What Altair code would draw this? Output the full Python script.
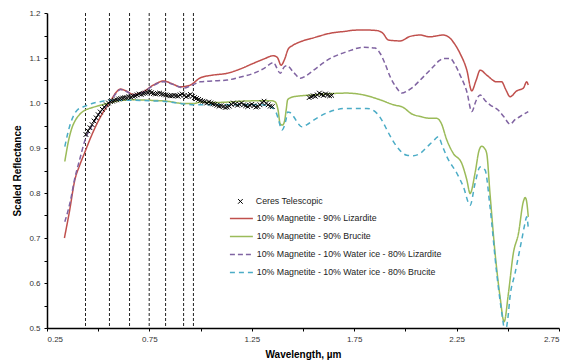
import altair as alt
import pandas as pd

# ---------------- data ----------------
series_names = [
    "10% Magnetite - 90% Lizardite",
    "10% Magnetite - 90% Brucite",
    "10% Magnetite - 10% Water ice - 80% Lizardite",
    "10% Magnetite - 10% Water ice - 80% Brucite",
]
series_colors = ["#C0504D", "#9BBB59", "#8064A2", "#4BACC6"]
series_dashes = [[1, 0], [1, 0], [5, 3], [5, 4]]
series_widths = [1.5, 1.5, 2.2, 1.5]

liz_x = [0.335, 0.36, 0.386, 0.41, 0.436, 0.465, 0.495, 0.525, 0.555, 0.585, 0.609, 0.635,
         0.672, 0.72, 0.77, 0.82, 0.86, 0.901, 0.95, 0.999, 1.06, 1.129, 1.19, 1.257, 1.31,
         1.355, 1.375, 1.393, 1.41, 1.428, 1.45, 1.487, 1.56, 1.633, 1.70, 1.763, 1.82, 1.86,
         1.89, 1.917, 1.974, 2.023, 2.072, 2.12, 2.15, 2.186, 2.218, 2.245, 2.267, 2.3, 2.324,
         2.345, 2.365, 2.397, 2.446, 2.47, 2.49, 2.511, 2.544, 2.576, 2.592, 2.6]
liz_y = [0.70, 0.76, 0.829, 0.862, 0.892, 0.925, 0.955, 0.98, 1.0, 1.022, 1.031, 1.027,
         1.019, 1.025, 1.04, 1.049, 1.043, 1.036, 1.04, 1.056, 1.062, 1.066, 1.075, 1.088, 1.098,
         1.105, 1.101, 1.084, 1.097, 1.12, 1.128, 1.136, 1.146, 1.155, 1.159, 1.162, 1.162, 1.161,
         1.155, 1.14, 1.138, 1.148, 1.151, 1.147, 1.149, 1.151, 1.144, 1.128, 1.110, 1.073, 1.027,
         1.05, 1.073, 1.062, 1.047, 1.047, 1.03, 1.014, 1.027, 1.033, 1.047, 1.04]

bru_x = [0.337, 0.356, 0.372, 0.389, 0.41, 0.436, 0.465, 0.495, 0.555, 0.6, 0.673, 0.75,
         0.836, 0.917, 0.966, 1.0, 1.06, 1.129, 1.2, 1.291, 1.35, 1.365, 1.378, 1.389, 1.40,
         1.41, 1.418, 1.425, 1.44, 1.454, 1.552, 1.714, 1.795, 1.877, 1.942, 1.99, 2.03, 2.072,
         2.12, 2.153, 2.175, 2.202, 2.234, 2.275, 2.3, 2.316, 2.34, 2.36, 2.373, 2.385, 2.397,
         2.413, 2.438, 2.462, 2.482, 2.503, 2.527, 2.552, 2.576, 2.585, 2.592, 2.6]
bru_y = [0.870, 0.918, 0.945, 0.962, 0.975, 0.984, 0.989, 0.993, 1.0, 1.005, 1.007, 1.006,
         1.004, 0.999, 0.999, 1.002, 1.001, 1.002, 1.004, 1.005, 1.005, 1.002, 0.985, 0.953, 0.951,
         0.96, 0.985, 1.007, 1.012, 1.014, 1.018, 1.022, 1.018, 1.007, 0.996, 0.99, 0.976, 0.970,
         0.966, 0.966, 0.955, 0.918, 0.888, 0.866, 0.829, 0.799, 0.844, 0.895, 0.904, 0.90, 0.888,
         0.799, 0.666, 0.570, 0.514, 0.577, 0.666, 0.71, 0.781, 0.79, 0.781, 0.747]

wliz_x = [0.337, 0.365, 0.384, 0.41, 0.436, 0.465, 0.495, 0.525, 0.555, 0.585, 0.609, 0.635,
          0.673, 0.72, 0.77, 0.82, 0.86, 0.901, 0.917, 0.95, 0.999, 1.06, 1.129, 1.19, 1.259,
          1.31, 1.356, 1.372, 1.389, 1.408, 1.422, 1.454, 1.487, 1.52, 1.552, 1.633, 1.714,
          1.795, 1.852, 1.877, 1.90, 1.926, 1.955, 1.983, 2.01, 2.039, 2.072, 2.105, 2.137,
          2.165, 2.186, 2.218, 2.245, 2.267, 2.3, 2.324, 2.345, 2.365, 2.39, 2.413, 2.454,
          2.48, 2.511, 2.535, 2.56, 2.585, 2.6]
wliz_y = [0.736, 0.784, 0.829, 0.875, 0.918, 0.946, 0.97, 0.988, 1.0, 1.02, 1.03, 1.026,
          1.018, 1.024, 1.039, 1.047, 1.042, 1.035, 1.033, 1.038, 1.047, 1.049, 1.051, 1.057, 1.066,
          1.077, 1.090, 1.078, 1.066, 1.080, 1.083, 1.068, 1.055, 1.062, 1.073, 1.099, 1.114,
          1.124, 1.122, 1.110, 1.088, 1.058, 1.035, 1.022, 1.027, 1.036, 1.051, 1.066, 1.081,
          1.094, 1.099, 1.099, 1.083, 1.062, 1.025, 0.981, 1.005, 1.018, 1.005, 0.996, 0.984,
          0.97, 0.953, 0.963, 0.97, 0.977, 0.981]

wbru_x = [0.337, 0.35, 0.365, 0.38, 0.397, 0.436, 0.47, 0.511, 0.555, 0.65, 0.75, 0.836,
          0.917, 0.966, 1.05, 1.129, 1.2, 1.291, 1.356, 1.372, 1.381, 1.397, 1.408, 1.418,
          1.425, 1.436, 1.454, 1.475, 1.495, 1.52, 1.552, 1.633, 1.714, 1.812, 1.861, 1.89,
          1.91, 1.958, 2.007, 2.04, 2.072, 2.105, 2.137, 2.161, 2.18, 2.202, 2.251, 2.283,
          2.316, 2.34, 2.365, 2.389, 2.413, 2.446, 2.475, 2.486, 2.50, 2.511, 2.535, 2.568,
          2.585, 2.592, 2.6]
wbru_y = [0.903, 0.93, 0.955, 0.972, 0.984, 0.993, 0.999, 1.003, 1.006, 1.006, 1.005, 1.003,
          0.998, 0.996, 0.996, 0.996, 0.996, 0.996, 0.988, 0.975, 0.962, 0.94, 0.948, 0.965,
          0.98, 0.979, 0.97, 0.955, 0.947, 0.952, 0.962, 0.981, 0.988, 0.988, 0.977, 0.958,
          0.94, 0.903, 0.884, 0.883, 0.888, 0.902, 0.916, 0.925, 0.905, 0.881, 0.844, 0.814,
          0.773, 0.821, 0.858, 0.851, 0.77, 0.621, 0.52, 0.49, 0.52, 0.570, 0.621, 0.696,
          0.735, 0.747, 0.722]

ceres_label = "Ceres Telescopic"
ceres_x = [0.44, 0.45, 0.46, 0.47, 0.48, 0.49, 0.50, 0.51, 0.52, 0.53, 0.54, 0.55, 0.56, 0.57,
           0.58, 0.59, 0.60, 0.61, 0.62, 0.63, 0.64, 0.65, 0.66, 0.67, 0.68, 0.69, 0.70, 0.71,
           0.72, 0.73, 0.74, 0.75, 0.76, 0.77, 0.78, 0.79, 0.80, 0.81, 0.82, 0.83, 0.84, 0.85,
           0.86, 0.87, 0.88, 0.89, 0.90, 0.91, 0.92, 0.93, 0.94, 0.95, 0.96, 0.97, 0.98, 0.99,
           1.00, 1.01, 1.02, 1.03, 1.04, 1.05, 1.06, 1.07, 1.08, 1.09, 1.10, 1.11, 1.12, 1.13,
           1.14, 1.15, 1.16, 1.17, 1.18, 1.19, 1.20, 1.21, 1.22, 1.23, 1.24, 1.25, 1.26, 1.27,
           1.28, 1.29, 1.30, 1.31, 1.32, 1.33, 1.34, 1.35,
           1.53, 1.54, 1.55, 1.56, 1.57, 1.58, 1.59, 1.60, 1.61, 1.62, 1.63, 1.64]
ceres_y = [0.930, 0.938, 0.945, 0.952, 0.960, 0.967, 0.974, 0.980, 0.986, 0.991, 0.996, 1.000,
           1.003, 1.004, 1.006, 1.007, 1.009, 1.010, 1.011, 1.012, 1.012, 1.014, 1.013, 1.015,
           1.016, 1.018, 1.020, 1.019, 1.021, 1.022, 1.024, 1.025, 1.023, 1.021, 1.020, 1.021,
           1.022, 1.020, 1.019, 1.018, 1.017, 1.016, 1.016, 1.017, 1.016, 1.015, 1.018, 1.020,
           1.017, 1.014, 1.016, 1.019, 1.015, 1.012, 1.010, 1.008, 1.006, 1.004, 1.003, 1.000,
           1.002, 1.000, 0.998, 0.997, 0.995, 0.993, 0.994, 0.992, 0.990, 0.991, 0.993, 0.997,
           1.000, 0.998, 0.995, 0.997, 1.000, 0.996, 0.994, 0.992, 0.995, 0.997, 0.994, 0.991,
           0.992, 0.996, 1.001, 1.004, 0.999, 0.996, 0.993, 0.992,
           1.012, 1.014, 1.016, 1.015, 1.018, 1.022, 1.019, 1.017, 1.020, 1.018, 1.016, 1.017]

filter_x = [0.438, 0.555, 0.653, 0.749, 0.829, 0.917, 0.965]

x_ticks = [0.25, 0.5, 0.75, 1.0, 1.25, 1.5, 1.75, 2.0, 2.25, 2.5, 2.75]
y_ticks = [0.5, 0.55, 0.6, 0.65, 0.7, 0.75, 0.8, 0.85, 0.9, 0.95, 1.0, 1.05, 1.1, 1.15, 1.2]

# ---------------- tables ----------------
rows = []
for name, xs, ys in zip(series_names,
                        [liz_x, bru_x, wliz_x, wbru_x],
                        [liz_y, bru_y, wliz_y, wbru_y]):
    for i, (x, y) in enumerate(zip(xs, ys)):
        rows.append({"series": name, "wl": x, "refl": y, "idx": i})
lines_df = pd.DataFrame(rows)
ceres_df = pd.DataFrame({"wl": ceres_x, "refl": ceres_y, "label": ceres_label})
filters_df = pd.DataFrame({"wl": filter_x})

FONT = "Liberation Sans"
x_scale = alt.Scale(domain=[0.25, 2.75], nice=False, zero=False)
y_scale = alt.Scale(domain=[0.5, 1.2], nice=False, zero=False)

x_axis = alt.Axis(
    title="Wavelength, µm", values=x_ticks,
    labelExpr="(round(datum.value*4) % 2 == 1) ? format(datum.value, '.2f') : ''",
)
y_axis = alt.Axis(
    title="Scaled Reflectance", values=y_ticks,
    labelExpr="(round(datum.value*20) % 2 == 0) ? format(datum.value, '.1f') : ''",
)

X_MARK = "M-1,-1L1,1M-1,1L1,-1"
LINE_SYMBOL = "M-4,0H4"

rules = alt.Chart(filters_df).mark_rule(
    strokeDash=[3, 2], color="#222222", strokeWidth=1
).encode(x=alt.X("wl:Q", scale=x_scale, axis=x_axis))

line_legend = alt.Legend(
    title=None, orient="none", legendX=190, legendY=201,
    symbolType=LINE_SYMBOL, symbolSize=33, symbolStrokeWidth=2,
    labelOffset=11, rowPadding=8, padding=0, labelLimit=0,
)

lines = alt.Chart(lines_df).mark_line(interpolate="monotone", clip=True).encode(
    x=alt.X("wl:Q", scale=x_scale, axis=x_axis),
    y=alt.Y("refl:Q", scale=y_scale, axis=y_axis),
    color=alt.Color("series:N", scale=alt.Scale(domain=series_names, range=series_colors),
                    legend=line_legend),
    strokeDash=alt.StrokeDash("series:N", scale=alt.Scale(domain=series_names, range=series_dashes),
                              legend=line_legend),
    strokeWidth=alt.StrokeWidth("series:N", scale=alt.Scale(domain=series_names, range=series_widths),
                                legend=None),
    order="idx:Q",
)

ceres = alt.Chart(ceres_df).mark_point(
    filled=False, size=22, strokeWidth=1, color="black", opacity=1
).encode(
    x=alt.X("wl:Q", scale=x_scale, axis=x_axis),
    y=alt.Y("refl:Q", scale=y_scale, axis=y_axis),
    shape=alt.Shape("label:N", scale=alt.Scale(domain=[ceres_label], range=[X_MARK]),
                    legend=alt.Legend(title=None, orient="none", legendX=189, legendY=184,
                                      symbolSize=22, symbolStrokeColor="black",
                                      symbolStrokeWidth=1, labelOffset=11, padding=0,
                                      labelLimit=0)),
)

chart = alt.layer(rules, lines, ceres).resolve_legend(
    color="shared", strokeDash="shared"
).properties(
    width=512, height=315,
    autosize=alt.AutoSizeParams(type="none"),
    padding={"left": 47, "top": 13, "right": 7, "bottom": 34},
).configure_view(stroke=None).configure_axis(
    grid=False, domainColor="black", domainWidth=1.5, tickColor="black", tickSize=3,
    labelFont=FONT, labelFontSize=8, labelColor="#333333", labelPadding=4,
    titleFont=FONT, titleFontSize=10, titleFontWeight="bold", titleColor="black",
).configure_axisX(titlePadding=6).configure_axisY(titlePadding=6).configure_legend(
    labelFont=FONT, labelFontSize=8.8, labelColor="#222222",
)

chart.save("out.html", embed_options={"renderer": "svg", "actions": False})
